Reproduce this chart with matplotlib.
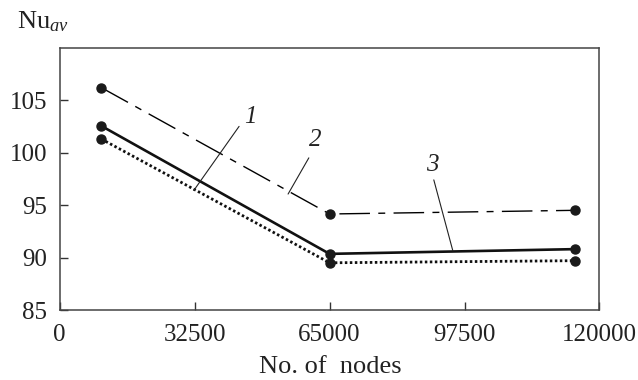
import matplotlib
matplotlib.use("Agg")
import matplotlib.pyplot as plt

plt.rcParams['font.family'] = ['Liberation Serif', 'DejaVu Serif']
plt.rcParams['mathtext.fontset'] = 'custom'
plt.rcParams['mathtext.rm'] = 'Liberation Serif'
plt.rcParams['mathtext.it'] = 'Liberation Serif:italic'

# Data
nodes = [10000, 65000, 124000]
nu_curve1 = [101.3, 89.5, 89.7]   # dotted
nu_curve2 = [106.2, 94.15, 94.5]  # dash-dot
nu_curve3 = [102.55, 90.35, 90.8] # solid

xtick_pos = [0, 32500, 65000, 97500, 130000]
xtick_labels = ["0", "32500", "65000", "97500", "120000"]
ytick_pos = [85, 90, 95, 100, 105]

fig = plt.figure(figsize=(6.38, 3.8), dpi=100)
ax = fig.add_axes([0.0936, 0.1842, 0.846, 0.6903])

ax.plot(nodes, nu_curve2, color='black', lw=1.0, dashes=(22, 6, 5, 6),
        marker='o', markersize=6.5, markerfacecolor='#1a1a1a', markeredgecolor='#1a1a1a')
ax.plot(nodes, nu_curve3, color='#111111', lw=1.9, linestyle='-',
        marker='o', markersize=6.5, markerfacecolor='#1a1a1a', markeredgecolor='#1a1a1a')
ax.plot(nodes, nu_curve1, color='#111111', lw=2.0, linestyle=(0, (0.9, 0.9)),
        marker='o', markersize=6.5, markerfacecolor='#1a1a1a', markeredgecolor='#1a1a1a')

ax.set_xlim(0, 130000)
ax.set_ylim(85, 110)
ax.set_xticks(xtick_pos)
ax.set_xticklabels(xtick_labels)
ax.set_yticks(ytick_pos)
ax.tick_params(direction='in', length=6, width=1.0, colors='#333333',
               labelsize=18, labelcolor='#222222')
ax.tick_params(axis='y', pad=9)
ax.tick_params(axis='x', pad=10)
for s in ax.spines.values():
    s.set_color('#444444')
    s.set_linewidth(1.1)

# Curve labels with pointer lines
labels = [("1", (45850, 103.4), (43200, 102.5), (32300, 96.4)),
          ("2", (61500, 101.2), (60000, 99.5), (55000, 96.05)),
          ("3", (89700, 98.8), (90100, 97.4), (94700, 90.62))]
for txt, tpos, start, end in labels:
    ax.text(tpos[0], tpos[1], txt, fontsize=18, style='italic',
            ha='center', va='center', color='#222222')
    ax.annotate('', xy=end, xytext=start,
                arrowprops=dict(arrowstyle='-', lw=0.8, color='#222222',
                                shrinkA=0, shrinkB=0))

fig.text(0.517, 0.005, "No. of  nodes", fontsize=19, color='#222222',
         ha='center', va='bottom')
fig.text(0.026, 0.942, r"Nu$_{\mathit{av}}$", fontsize=19, color='#222222',
         ha='left', va='center')

fig.savefig("out.png", dpi=100)
